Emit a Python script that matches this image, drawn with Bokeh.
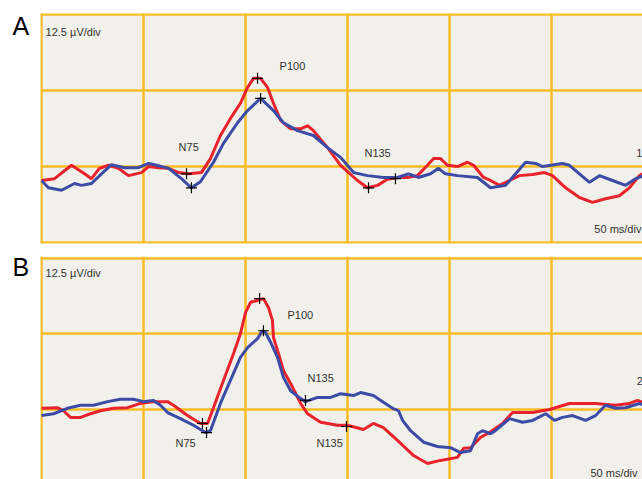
from bokeh.plotting import figure
from bokeh.layouts import column, row
from bokeh.models import Grid, FixedTicker, Label, Range1d
from bokeh.embed import file_html
from bokeh.resources import INLINE

# ---------------- Panel A (time in ms, amplitude in µV) ----------------
a_red_t = [0, 6.4, 14.7, 21.1, 24.5, 28.4, 32.8, 37.7, 42.6, 49.0, 52.5, 57.4, 62.3, 67.2,
           72.1, 78.4, 82.8, 87.7, 92.6, 97.5, 101.0, 103.9, 107.4, 110.8, 113.7, 117.2,
           122.1, 127.0, 130.4, 133.3, 140.2, 146.6, 154.9, 159.8, 164.7, 169.6, 174.5,
           179.4, 184.3, 189.2, 192.2, 195.6, 199.0, 203.9, 208.8, 211.8, 216.7, 220.1,
           224.5, 229.4, 234.3, 240.7, 246.6, 250.5, 256.9, 263.7, 270.1, 276.5, 283.3,
           288.2, 293.1, 294.6]
a_red_v = [-2.3, -2.0, 0.2, -1.2, -2.0, -0.3, 0.2, -0.3, -1.5, -1.0, 0.0, -0.2, -0.3, -1.0,
           -1.2, -1.0, 1.3, 5.1, 7.9, 10.4, 13.0, 14.5, 14.5, 13.0, 10.4, 7.6,
           6.2, 6.2, 6.7, 5.9, 3.1, 0.2, -2.3, -3.5, -3.1, -2.1, -1.8,
           -1.8, -1.5, 0.2, 1.3, 1.3, 0.2, 0.0, 0.7, 0.2, -1.8, -2.3,
           -3.1, -2.3, -1.5, -1.3, -1.0, -1.5, -3.5, -5.1, -5.9, -5.3, -4.8,
           -3.5, -1.5, -1.2]
a_blue_t = [0, 3.4, 9.8, 16.2, 19.6, 24.5, 29.4, 34.3, 40.7, 47.5, 52.5, 55.4, 62.3, 68.6,
            73.5, 77.9, 84.3, 89.2, 96.1, 101.0, 107.4, 113.7, 118.6, 125.5, 133.3, 140.2,
            146.6, 153.0, 159.8, 167.6, 174.5, 179.9, 184.8, 190.7, 194.6, 198.0, 203.9,
            213.7, 220.1, 227.5, 232.4, 237.3, 242.2, 245.6, 255.4, 258.8, 263.7, 268.6,
            273.5, 279.9, 286.3, 291.2, 294.6]
a_blue_v = [-2.3, -3.5, -3.9, -2.8, -3.1, -2.8, -1.2, 0.3, -0.2, -0.2, 0.5, 0.3, -0.3, -2.0,
            -3.5, -2.5, 0.7, 3.8, 7.2, 9.2, 11.2, 9.2, 7.2, 5.9, 5.1, 3.1,
            1.5, -1.0, -1.5, -1.8, -1.8, -1.2, -1.8, -1.2, -0.3, -1.2, -1.5,
            -1.8, -3.5, -3.1, -1.2, 0.7, 0.5, 0.0, 0.5, 0.2, -1.2, -2.6,
            -1.5, -2.3, -3.1, -2.0, -1.6]
a_mark_t = [71.1, 73.5, 105.9, 107.4, 160.3, 173.5]
a_mark_v = [-1.2, -3.5, 14.5, 11.2, -3.5, -2.0]

# ---------------- Panel B ----------------
b_red_t = [0, 7.8, 10.8, 14.2, 19.1, 24.0, 28.9, 35.3, 42.2, 48.5, 54.9, 61.8, 64.7, 71.6,
           77.9, 81.4, 84.3, 89.2, 94.1, 97.5, 100.0, 102.5, 105.9, 108.8, 111.3, 113.2,
           113.7, 116.2, 118.6, 122.1, 127.0, 130.4, 136.8, 145.1, 150.0, 157.8, 162.7,
           167.6, 174.5, 182.4, 189.2, 195.6, 203.9, 206.9, 210.3, 215.2, 219.6, 226.0,
           230.9, 240.7, 249.0, 258.8, 271.6, 281.4, 288.2, 292.2, 294.6]
b_red_v = [0.2, 0.3, -0.2, -1.3, -1.3, -0.7, -0.2, 0.2, 0.3, 1.0, 1.3, 1.3, 0.7, -1.0,
           -2.3, -2.3, 0.3, 4.8, 9.2, 12.5, 16.0, 17.7, 18.0, 18.3, 16.8, 14.7,
           11.9, 9.2, 6.4, 4.3, 1.0, -0.7, -2.1, -2.6, -2.6, -3.3, -2.3,
           -3.0, -5.1, -7.6, -8.9, -8.4, -7.9, -6.4, -6.3, -4.6, -3.8, -2.3,
           -0.5, -0.5, 0.0, 1.0, 1.0, 0.7, 1.0, 1.5, 1.2]
b_blue_t = [0, 5.9, 12.7, 19.1, 25.5, 32.4, 38.7, 45.1, 50.0, 54.9, 58.3, 61.8, 68.1, 74.5,
            80.4, 82.8, 87.7, 92.6, 97.5, 101.0, 105.9, 108.3, 109.8, 112.3, 115.7, 118.6,
            122.1, 127.0, 129.4, 135.3, 141.7, 146.6, 152.9, 156.4, 162.7, 167.6, 172.1,
            175.0, 177.0, 180.9, 187.3, 194.1, 200.5, 205.4, 210.3, 213.7, 216.2, 220.1,
            222.5, 229.4, 235.8, 240.7, 247.1, 251.5, 255.4, 260.3, 266.7, 271.6, 276.5,
            281.4, 286.3, 293.1, 294.6]
b_blue_v = [-1.0, -0.7, 0.2, 0.7, 0.7, 1.3, 1.7, 1.7, 1.3, 1.5, 0.7, -0.5, -1.5, -2.6,
            -3.8, -3.5, 1.0, 4.8, 8.6, 10.2, 11.7, 13.0, 12.7, 11.1, 8.6, 5.3,
            3.1, 1.8, 1.3, 2.0, 2.0, 2.6, 2.3, 2.8, 2.3, 1.2, 0.2,
            -0.2, -1.8, -3.5, -5.4, -6.1, -6.3, -7.1, -6.8, -4.0, -3.5, -4.0,
            -3.5, -1.5, -2.1, -1.8, -0.7, -1.8, -1.3, -1.0, -1.8, -1.0, 0.7,
            0.2, 0.3, 1.0, 0.8]
b_mark_t = [78.9, 80.9, 106.9, 108.8, 129.4, 149.5]
b_mark_v = [-2.3, -3.8, 18.3, 13.0, 1.5, -2.8]

x_ticks = [0, 50, 100, 150, 200, 250]
y_ticks = [-12.5, 0, 12.5, 25]

RED = "#E8232B"
BLUE = "#3B4BA6"
GRID = "#F8BD26"
BG = "#F1F0EA"
FONT = "Liberation Sans"


def letter_fig(h, letter, base_from_top):
    f = figure(width=40, height=h, x_range=Range1d(0, 40), y_range=Range1d(0, h),
               x_axis_type=None, y_axis_type=None, toolbar_location=None,
               output_backend="svg", min_border=0)
    f.outline_line_color = None
    f.background_fill_color = "white"
    f.border_fill_color = "white"
    f.add_layout(Label(x=12, y=h - base_from_top, text=letter, text_font=FONT,
                       text_font_size="25px", text_color="black",
                       text_baseline="alphabetic"))
    return f


def panel(h, top, bottom, y0, y1, rt, rv, bt, bv, mt, mv, labels):
    p = figure(width=602, height=h, x_range=Range1d(-0.49, 294.6), y_range=Range1d(y0, y1),
               x_axis_type=None, y_axis_type=None, toolbar_location=None,
               output_backend="svg", min_border_left=0, min_border_right=0,
               min_border_top=top, min_border_bottom=bottom)
    p.background_fill_color = BG
    p.border_fill_color = "white"
    p.outline_line_color = None
    p.add_layout(Grid(dimension=0, ticker=FixedTicker(ticks=x_ticks),
                      grid_line_color=GRID, grid_line_width=2.5))
    p.add_layout(Grid(dimension=1, ticker=FixedTicker(ticks=y_ticks),
                      grid_line_color=GRID, grid_line_width=2.5))
    p.line(rt, rv, line_color=RED, line_width=3)
    p.line(bt, bv, line_color=BLUE, line_width=3)
    p.scatter(mt, mv, marker="cross", size=11, line_color="black", line_width=1.2)
    for (x, y, t) in labels:
        p.add_layout(Label(x=x, y=y, text=t, text_font=FONT, text_font_size="11px",
                           text_color="#333333", text_baseline="alphabetic"))
    return p


pa = panel(250, 13, 7, -12.66, 25.16, a_red_t, a_red_v, a_blue_t, a_blue_v, a_mark_t, a_mark_v,
           [(2.0, 22.16, "12.5 µV/div"), (116.7, 16.46, "P100"), (67.2, 3.26, "N75"),
            (158.3, 2.26, "N135"), (271.0, -10.34, "50 ms/div"), (291.5, 2.16, "1")])
pb = panel(229, 6, 0, -11.55, 25.25, b_red_t, b_red_v, b_blue_t, b_blue_v, b_mark_t, b_mark_v,
           [(2.0, 22.54, "12.5 µV/div"), (120.6, 15.64, "P100"), (65.7, -5.56, "N75"),
            (130.4, 5.24, "N135"), (134.8, -5.56, "N135"), (269.1, -10.46, "50 ms/div"),
            (291.8, 4.74, "2")])

layout = column(row(letter_fig(250, "A", 14), pa, spacing=0),
                row(letter_fig(229, "B", 11), pb, spacing=0), spacing=0)
open("out.html", "w").write(file_html(layout, INLINE))
